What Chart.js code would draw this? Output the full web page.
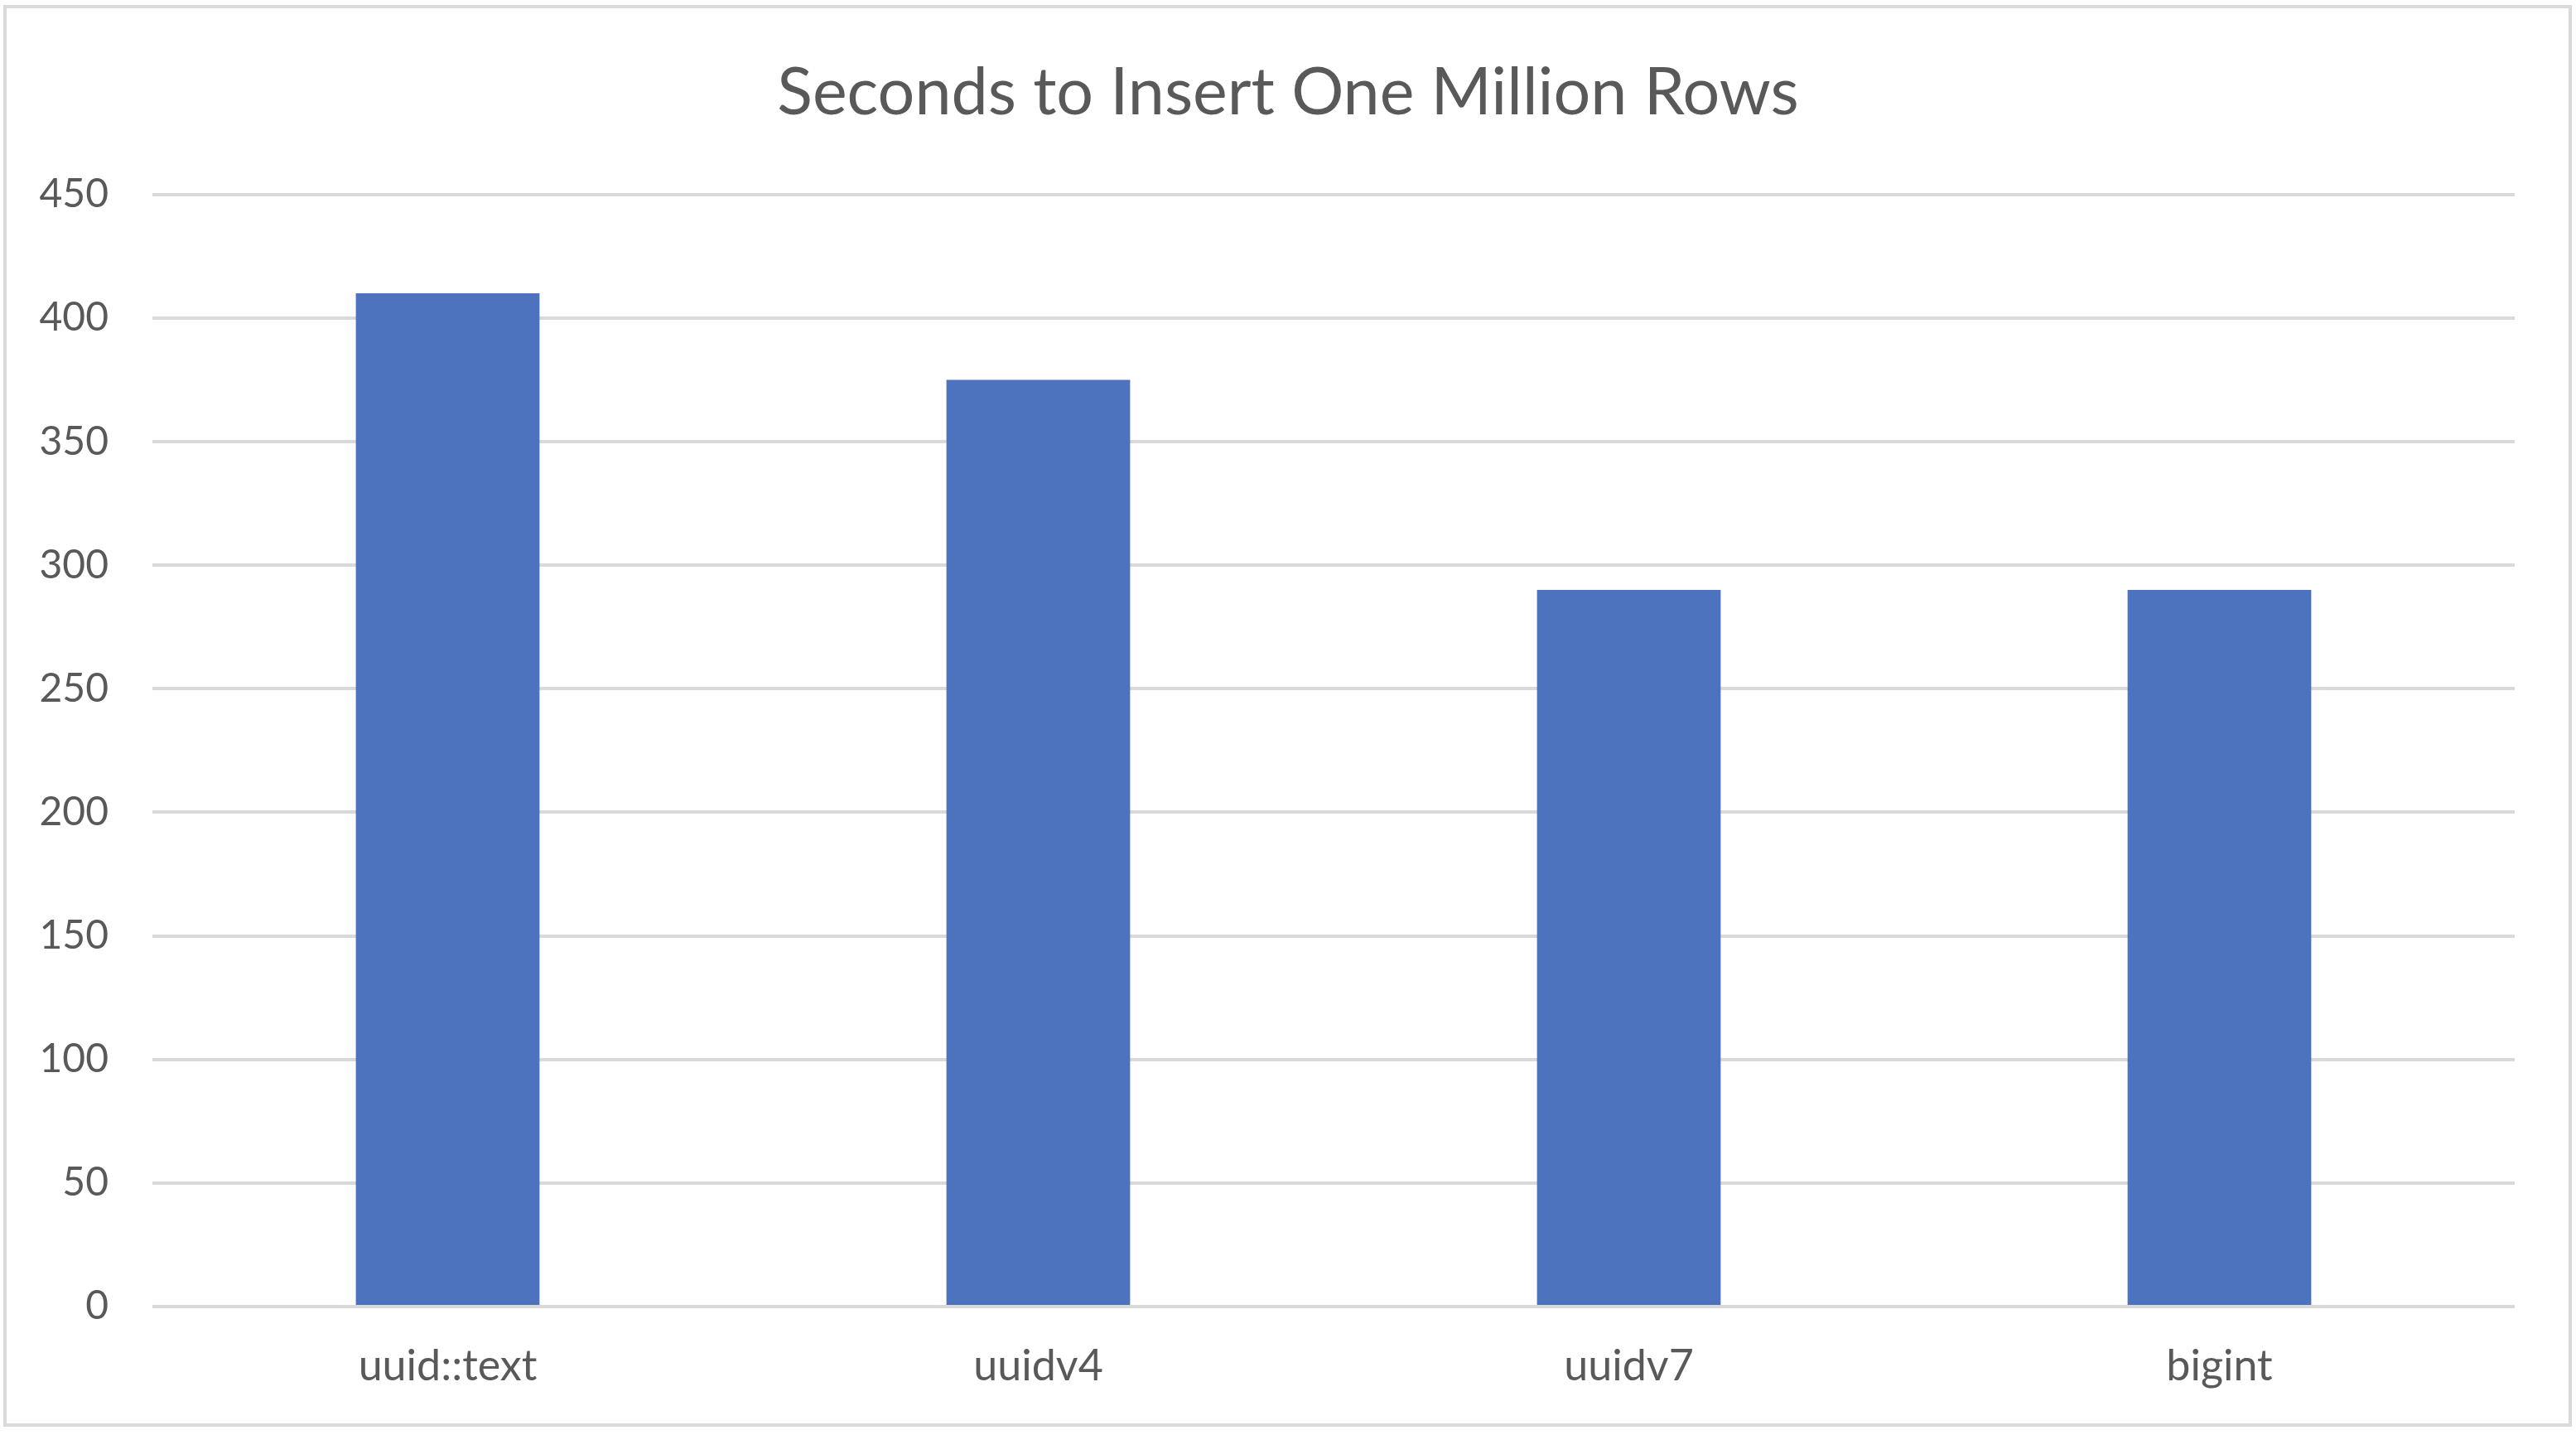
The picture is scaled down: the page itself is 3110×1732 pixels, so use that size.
<!DOCTYPE html>
<html>
<head>
<meta charset="utf-8">
<script src="https://cdn.jsdelivr.net/npm/chart.js@4/dist/chart.umd.min.js"></script>
<style>
  html, body { margin: 0; padding: 0; background: #fff; }
  #frame {
    position: absolute; left: 4px; top: 6px; width: 3101px; height: 1716px;
    box-sizing: border-box; border: 4px solid #d9d9d9;
  }
  #chart { position: absolute; left: 0; top: 0; }
</style>
</head>
<body>
<div id="frame"></div>
<canvas id="chart" width="3110" height="1732"></canvas>
<script>
const categories = ['uuid::text', 'uuidv4', 'uuidv7', 'bigint'];
const seconds = [410, 375, 290, 290];
const yMin = 0;
const yMax = 450;
const yStep = 50;

const textColor = '#595959';
const gridColor = '#d9d9d9';

const ctx = document.getElementById('chart').getContext('2d');
new Chart(ctx, {
    type: 'bar',
    data: {
        labels: categories,
        datasets: [{
            label: 'Seconds',
            data: seconds,
            backgroundColor: '#4e73be',
            borderWidth: 0,
            categoryPercentage: 1,
            barPercentage: 0.311
        }]
    },
    options: {
        responsive: false,
        devicePixelRatio: 1,
        animation: false,
        layout: { padding: 0 },
        plugins: {
            legend: { display: false },
            tooltip: { enabled: false },
            title: {
                display: true,
                text: 'Seconds to Insert One Million Rows',
                color: textColor,
                font: { family: 'Lato', size: 79, weight: 'normal', lineHeight: 1.2 },
                padding: { top: 65, bottom: 75 }
            }
        },
        scales: {
            x: {
                grid: { display: false },
                border: { display: false },
                ticks: {
                    color: textColor,
                    font: { family: 'Lato', size: 52 },
                    padding: 33,
                    maxRotation: 0
                },
                afterFit: function(scale) { scale.height = 155; }
            },
            y: {
                min: yMin,
                max: yMax,
                grid: { color: gridColor, lineWidth: 4, drawTicks: false },
                border: { display: false },
                ticks: {
                    stepSize: yStep,
                    color: textColor,
                    font: { family: 'Lato', size: 48 },
                    padding: 53
                },
                afterFit: function(scale) { scale.width = 184; }
            },
            // empty right-hand spacer so the title stays centred on the whole frame
            yRight: {
                position: 'right',
                min: yMin,
                max: yMax,
                grid: { display: false },
                border: { display: false },
                ticks: { display: false },
                afterFit: function(scale) { scale.width = 74; }
            }
        }
    }
});
</script>
</body>
</html>
